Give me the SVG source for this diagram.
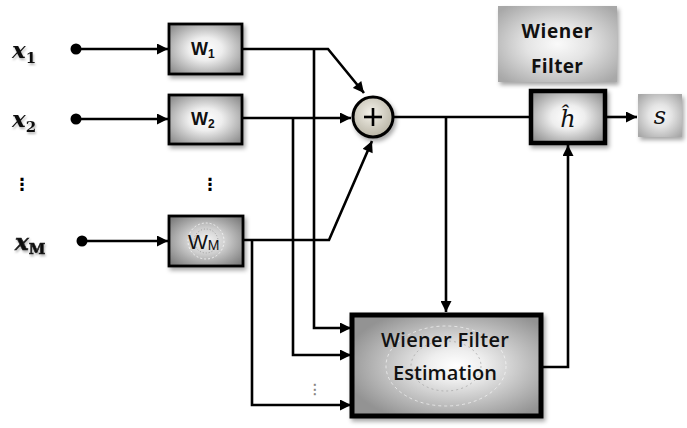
<svg xmlns="http://www.w3.org/2000/svg" width="687" height="428" viewBox="0 0 687 428">
<defs>
<radialGradient id="gBox" cx="50%" cy="50%" r="65%">
<stop offset="0" stop-color="#ffffff"/><stop offset="0.35" stop-color="#eeeeee"/><stop offset="1" stop-color="#8c8c8c"/>
</radialGradient>
<radialGradient id="gWM" cx="50%" cy="50%" r="65%">
<stop offset="0" stop-color="#f4f4f4"/><stop offset="0.4" stop-color="#cfcfcf"/><stop offset="1" stop-color="#7a7a7a"/>
</radialGradient>
<radialGradient id="gEst" cx="55%" cy="50%" r="60%">
<stop offset="0" stop-color="#ffffff"/><stop offset="0.25" stop-color="#eeeeee"/><stop offset="1" stop-color="#939393"/>
</radialGradient>
<radialGradient id="gLbl" cx="50%" cy="50%" r="65%">
<stop offset="0" stop-color="#fafafa"/><stop offset="0.4" stop-color="#e4e4e4"/><stop offset="1" stop-color="#a8a8a8"/>
</radialGradient>
<radialGradient id="gSum" cx="45%" cy="40%" r="60%">
<stop offset="0" stop-color="#f4f2ea"/><stop offset="1" stop-color="#b9b5a6"/>
</radialGradient>
<filter id="sh" x="-20%" y="-20%" width="150%" height="150%">
<feDropShadow dx="2" dy="3" stdDeviation="2" flood-color="#000" flood-opacity="0.35"/>
</filter>
<filter id="tsh" x="-20%" y="-20%" width="150%" height="150%">
<feDropShadow dx="1" dy="2" stdDeviation="1.2" flood-color="#000" flood-opacity="0.3"/>
</filter>
<marker id="arr" viewBox="0 0 10 10" refX="10" refY="5" markerWidth="12" markerHeight="11" markerUnits="userSpaceOnUse" orient="auto">
<path d="M0,0 L10,5 L0,10 z" fill="#000"/>
</marker>
</defs>
<style>
.ln{fill:none;stroke:#000;stroke-width:2.6}
.box{stroke:#000;stroke-width:2.8}
.xl{font-family:"DejaVu Serif","Liberation Serif",serif;font-style:italic;font-weight:bold;font-size:23px;fill:#111}
.sub{font-family:"DejaVu Serif","Liberation Serif",serif;font-style:normal;font-weight:bold;font-size:15px}
.wl{font-family:"Liberation Sans","DejaVu Sans",sans-serif;font-weight:bold;font-size:18px;fill:#111}
.ws{font-size:12px}
.est{font-family:"Open Sans","Liberation Sans",sans-serif;font-weight:600;font-size:20px;fill:#111;text-anchor:middle}
.lbl{font-family:"Open Sans","Liberation Sans",sans-serif;font-weight:bold;font-size:19px;fill:#111;text-anchor:middle}
.dots{font-family:"DejaVu Sans",sans-serif;font-size:17px;font-weight:bold;fill:#000;text-anchor:middle}
</style>

<g id="connectors">
<circle cx="76" cy="49" r="5.5" fill="#000"/>
<circle cx="76" cy="119" r="5.5" fill="#000"/>
<circle cx="82" cy="241" r="5.5" fill="#000"/>
<line class="ln" x1="76" y1="49" x2="168" y2="49" marker-end="url(#arr)"/>
<line class="ln" x1="76" y1="119" x2="168" y2="119" marker-end="url(#arr)"/>
<line class="ln" x1="82" y1="241" x2="168" y2="241" marker-end="url(#arr)"/>
<polyline class="ln" points="242,49 328,49 364,93" marker-end="url(#arr)"/>
<polyline class="ln" points="314,49 314,328 351,328" marker-end="url(#arr)"/>
<line class="ln" x1="242" y1="118" x2="351" y2="118" marker-end="url(#arr)"/>
<polyline class="ln" points="293,118 293,355 351,355" marker-end="url(#arr)"/>
<polyline class="ln" points="243,240 329,240 372,141" marker-end="url(#arr)"/>
<polyline class="ln" points="252,240 252,405 351,405" marker-end="url(#arr)"/>
<line class="ln" x1="394" y1="117" x2="532" y2="117"/>
<line class="ln" x1="446" y1="117" x2="446" y2="312" marker-end="url(#arr)"/>
<line class="ln" x1="606" y1="117" x2="637" y2="117" marker-end="url(#arr)"/>
<polyline class="ln" points="542,367 568,367 568,145" marker-end="url(#arr)"/>
</g>

<g id="x1"><text class="xl" x="12" y="58" filter="url(#tsh)">x<tspan class="sub" dy="5">1</tspan></text></g>
<g id="x2"><text class="xl" x="12" y="127" filter="url(#tsh)">x<tspan class="sub" dy="5">2</tspan></text></g>
<g id="xM"><text class="xl" x="15" y="250" fill="#444" stroke="#222" stroke-width="0.6" filter="url(#tsh)">x<tspan class="sub" dy="4" font-style="italic">M</tspan></text></g>
<g id="dotsL"><text class="dots" x="22" y="190">⋮</text></g>
<g id="dotsW"><text class="dots" x="210" y="190">⋮</text></g>

<g id="W1">
<rect class="box" x="169" y="24" width="73" height="50" fill="url(#gBox)" filter="url(#sh)"/>
<text class="wl" x="191" y="55">W<tspan class="ws" dy="3">1</tspan></text>
</g>
<g id="W2">
<rect class="box" x="169" y="95" width="73" height="49" fill="url(#gBox)" filter="url(#sh)"/>
<text class="wl" x="191" y="125">W<tspan class="ws" dy="3">2</tspan></text>
</g>
<g id="WM">
<rect class="box" x="169" y="216" width="74" height="50" fill="url(#gWM)" filter="url(#sh)"/>
<circle cx="206" cy="241" r="18" fill="none" stroke="#fff" stroke-width="1" stroke-dasharray="2 2" opacity="0.7"/>
<circle cx="206" cy="241" r="12" fill="none" stroke="#888" stroke-width="1" stroke-dasharray="1 2" opacity="0.7"/>
<text x="188" y="249" font-family="Liberation Sans, DejaVu Sans, sans-serif" font-size="21px" fill="#111">W<tspan font-size="14px" dy="1">M</tspan></text>
</g>

<g id="sum">
<circle cx="373" cy="117" r="20" fill="url(#gSum)" stroke="#000" stroke-width="3" filter="url(#sh)"/>
<line x1="364" y1="117" x2="382" y2="117" stroke="#000" stroke-width="2.6"/>
<line x1="373" y1="108" x2="373" y2="126" stroke="#000" stroke-width="2.6"/>
</g>

<g id="wienerLabel">
<rect x="498" y="6" width="119" height="76" fill="url(#gLbl)" filter="url(#sh)"/>
<text class="lbl" x="557" y="38" textLength="71">Wiener</text>
<text class="lbl" x="557" y="73" textLength="52">Filter</text>
</g>

<g id="h">
<rect x="531" y="91" width="74" height="52" fill="url(#gBox)" stroke="#000" stroke-width="4.5" filter="url(#sh)"/>
<text x="568" y="127" font-family="DejaVu Serif, Liberation Serif, serif" font-style="italic" font-size="24px" fill="#111" text-anchor="middle">ĥ</text>
</g>

<g id="s">
<rect x="638" y="94" width="44" height="43" fill="url(#gLbl)" filter="url(#sh)"/>
<text x="660" y="124" font-family="DejaVu Serif, Liberation Serif, serif" font-style="italic" font-size="24px" fill="#111" text-anchor="middle">s</text>
</g>

<g id="estimation">
<rect x="352" y="315" width="189" height="101" fill="url(#gEst)" stroke="#000" stroke-width="5" filter="url(#sh)"/>
<ellipse cx="446" cy="366" rx="60" ry="40" fill="none" stroke="#fff" stroke-width="1" stroke-dasharray="3 3" opacity="0.6"/>
<ellipse cx="446" cy="366" rx="35" ry="25" fill="none" stroke="#999" stroke-width="1" stroke-dasharray="2 3" opacity="0.6"/>
<text class="est" x="445" y="347" textLength="128">Wiener Filter</text>
<text class="est" x="445" y="380" textLength="104">Estimation</text>
</g>

<g id="dotsE"><text x="315" y="394" font-family="DejaVu Sans, sans-serif" font-size="14px" fill="#666" stroke="#999" stroke-width="0.4" text-anchor="middle">⋮</text></g>
</svg>
